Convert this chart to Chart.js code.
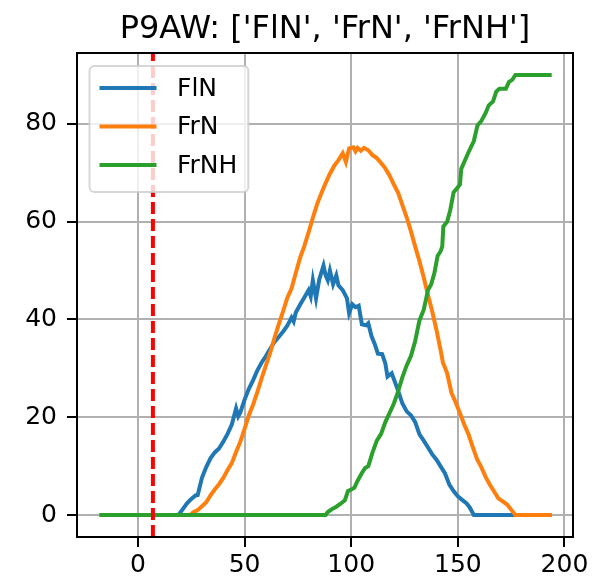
<!DOCTYPE html>
<html>
<head>
<meta charset="utf-8">
<script src="https://cdn.jsdelivr.net/npm/chart.js@4.4.1/dist/chart.umd.min.js"></script>
<style>
  html, body { margin: 0; padding: 0; background: #fff; }
  #wrap { width: 609px; height: 585px; }
</style>
</head>
<body>
<div id="wrap"><canvas id="chart"></canvas></div>
<script>
const title = "P9AW: ['FlN', 'FrN', 'FrNH']";
const labels = ['FlN', 'FrN', 'FrNH'];

// x positions / values
const flnX = [-18, 19, 21, 23, 25, 27, 28, 30, 32, 34, 36, 38, 40, 42, 44, 46, 47, 48, 50, 52, 54, 56, 58, 60, 62, 64, 66, 68, 70, 72, 73, 74, 76, 78, 80, 81, 82, 83.5, 85, 87, 88, 89, 90, 91.5, 93, 94, 96, 98, 99, 100.5, 102, 103.5, 105, 107, 108, 109.5, 111, 112.5, 114.5, 116, 117, 119, 120, 122, 124, 126, 128, 130, 132, 134, 136, 138, 140, 142, 144, 146, 148, 150, 152, 154, 155.5, 157.5, 194];
const flnY = [0, 0, 1.2, 2.4, 3.3, 4, 4.1, 7.6, 9.8, 11.6, 12.8, 13.6, 15, 16.6, 18.5, 21.8, 20.2, 21, 23.6, 25.8, 27.6, 29.6, 31.2, 32.5, 34, 35.4, 36.4, 37.5, 38.7, 40.4, 39.6, 41.4, 43, 44.5, 46, 44.7, 48, 44.3, 48.2, 51, 49, 48, 50, 47.2, 49, 47, 46, 44.3, 41.3, 43.1, 42.5, 42.8, 39, 38.8, 39.2, 36.6, 35, 33, 32.9, 31, 28.3, 29, 27.8, 25.4, 22.8, 21.2, 20.4, 19, 16.5, 15.2, 13.8, 12.4, 11.3, 9.9, 8.5, 6.2, 4.9, 3.8, 3.1, 2.4, 1.6, 0, 0];

const frnX = [-18, 24.5, 26, 28, 30, 32, 34, 36, 38, 40, 42, 44, 46, 48, 50, 52, 54, 56, 58, 60, 62, 64, 66, 68, 70, 72, 74, 76, 78, 80, 82, 84, 86, 88, 90, 92, 94, 96, 97.5, 99, 101, 102, 103, 104.5, 106, 108, 110, 112, 114, 116, 118, 120, 122, 124, 126, 128, 130, 132, 134, 136, 138, 140, 142, 143, 145, 147, 149, 151, 153, 155, 157, 159, 161, 163, 165, 167, 169, 171, 173, 175, 177, 194];
const frnY = [0, 0, 0.6, 1, 1.8, 2.6, 4, 5.2, 6.3, 7.6, 9.2, 10.6, 12.9, 15, 17.6, 20.4, 22.6, 25.2, 28, 30.6, 33.2, 36.2, 39, 41.6, 44.4, 46.3, 49.5, 52.6, 55, 57.8, 60.8, 63.6, 65.8, 67.9, 69.8, 71.4, 72.6, 74, 72.2, 75, 75.2, 74.4, 75.1, 74.5, 75.1, 74.6, 73.6, 73, 72, 70.9, 69.4, 67.6, 65.9, 63.4, 60.9, 58, 54.9, 51.9, 48.6, 45, 41.6, 37.8, 33.5, 31.2, 29, 25, 23, 20.8, 18.5, 16.5, 13.9, 11.4, 9.8, 7.8, 6.2, 4.8, 3.4, 2.8, 2.2, 1.1, 0, 0];

const frnhX = [-18, 88, 89, 91, 93, 95, 97, 98.5, 100, 101.5, 103, 105, 106.5, 108, 110, 112, 114, 116, 118, 120, 122, 124, 126, 128, 130, 132, 134, 136, 137.5, 139, 140.5, 142, 142.7, 143.2, 145, 146.5, 148, 149.5, 151, 151.6, 153, 155, 157.5, 159.2, 161, 163, 164.5, 166.5, 168, 169.5, 172.5, 174, 175.5, 177, 194];
const frnhY = [0, 0, 0.6, 1.2, 1.7, 2.3, 3, 4.9, 5.2, 5.6, 7, 8.6, 9.6, 10, 12.8, 15.2, 16.6, 19, 20.9, 22.8, 25.3, 28.2, 30.6, 32.5, 35.6, 39.8, 42, 46, 47.2, 49.5, 53, 54, 55, 59, 60, 62.5, 66, 66.8, 67.6, 70.8, 72.2, 74.2, 76.5, 79.7, 80.6, 82.2, 83.8, 84.6, 86.6, 87.2, 87.2, 88.6, 89, 90, 90];

const markerX = 7;
const xLimits = [-28.6, 204];
const yLimits = [-4.5, 94.5];
const xTicks = [0, 50, 100, 150, 200];
const yTicks = [0, 20, 40, 60, 80];

const colors = ['#1f77b4', '#ff7f0e', '#2ca02c'];
const FONT = 'DejaVu Sans';

function pts(xs, ys) {
  return xs.map((x, i) => ({ x: x, y: ys[i] }));
}

// title centred over the axes, not the whole canvas
const axesTitle = {
  id: 'axesTitle',
  afterDraw(c) {
    const ctx = c.ctx, ca = c.chartArea;
    ctx.save();
    ctx.font = '32px "' + FONT + '"';
    ctx.fillStyle = '#000';
    ctx.textAlign = 'center';
    ctx.textBaseline = 'alphabetic';
    ctx.fillText(title, (ca.left + ca.right) / 2, ca.top - 15);
    ctx.restore();
  }
};

// legend drawn inside the axes, like matplotlib's
const innerLegend = {
  id: 'innerLegend',
  afterDraw(c) {
    const ctx = c.ctx, ca = c.chartArea;
    const x0 = ca.left + 12.5, y0 = ca.top + 13;
    ctx.save();
    ctx.font = '25px "' + FONT + '"';
    let tw = 0;
    labels.forEach(l => { tw = Math.max(tw, ctx.measureText(l).width); });
    const w = 87.5 + tw + 11, h = 126, r = 5;
    ctx.beginPath();
    ctx.roundRect(x0, y0, w, h, r);
    ctx.fillStyle = 'rgba(255,255,255,0.8)';
    ctx.fill();
    ctx.lineWidth = 2;
    ctx.strokeStyle = 'rgba(204,204,204,0.8)';
    ctx.stroke();
    labels.forEach((l, i) => {
      const cy = y0 + 22 + i * 38.5;
      ctx.beginPath();
      ctx.moveTo(x0 + 10, cy);
      ctx.lineTo(x0 + 67, cy);
      ctx.strokeStyle = colors[i];
      ctx.lineWidth = 4;
      ctx.stroke();
      ctx.fillStyle = '#000';
      ctx.textBaseline = 'middle';
      ctx.fillText(l, x0 + 87.5, cy + 1);
    });
    ctx.restore();
  }
};

const frame = {
  id: 'frame',
  afterDatasetsDraw(c) {
    const ctx = c.ctx, ca = c.chartArea;
    ctx.save();
    ctx.strokeStyle = '#000';
    ctx.lineWidth = 2;
    ctx.strokeRect(ca.left, ca.top, ca.right - ca.left, ca.bottom - ca.top);
    ctx.restore();
  }
};

const line = (label, data, color, order) => ({
  label: label, data: data, borderColor: color, backgroundColor: color,
  borderWidth: 4, pointRadius: 0, tension: 0, order: order
});

new Chart(document.getElementById('chart'), {
  type: 'line',
  data: {
    datasets: [
      line(labels[0], pts(flnX, flnY), colors[0], 3),
      line(labels[1], pts(frnX, frnY), colors[1], 2),
      line(labels[2], pts(frnhX, frnhY), colors[2], 1),
      {
        label: '', data: [{ x: markerX, y: yLimits[0] }, { x: markerX, y: yLimits[1] }],
        borderColor: '#ff0000', borderWidth: 4, borderDash: [12, 5],
        pointRadius: 0, order: 0
      }
    ]
  },
  options: {
    responsive: true,
    maintainAspectRatio: false,
    animation: false,
    layout: { padding: { left: 0, right: 36, top: 53, bottom: 0 } },
    plugins: {
      legend: { display: false },
      tooltip: { enabled: false },
      title: { display: false }
    },
    scales: {
      x: {
        type: 'linear', min: xLimits[0], max: xLimits[1],
        afterBuildTicks: s => { s.ticks = xTicks.map(v => ({ value: v })); },
        afterFit: s => { s.height = 48; },
        grid: { color: '#b0b0b0', lineWidth: 2, tickColor: '#000', tickWidth: 2, tickLength: 10 },
        border: { color: '#000', width: 2 },
        ticks: { color: '#000', font: { family: FONT, size: 25 }, padding: 3, maxRotation: 0 }
      },
      y: {
        type: 'linear', min: yLimits[0], max: yLimits[1],
        afterBuildTicks: s => { s.ticks = yTicks.map(v => ({ value: v })); },
        afterFit: s => { s.width = 77; },
        grid: { color: '#b0b0b0', lineWidth: 2, tickColor: '#000', tickWidth: 2, tickLength: 10 },
        border: { color: '#000', width: 2 },
        ticks: { color: '#000', font: { family: FONT, size: 25 }, padding: 10 }
      }
    }
  },
  plugins: [frame, innerLegend, axesTitle]
});
</script>
</body>
</html>
